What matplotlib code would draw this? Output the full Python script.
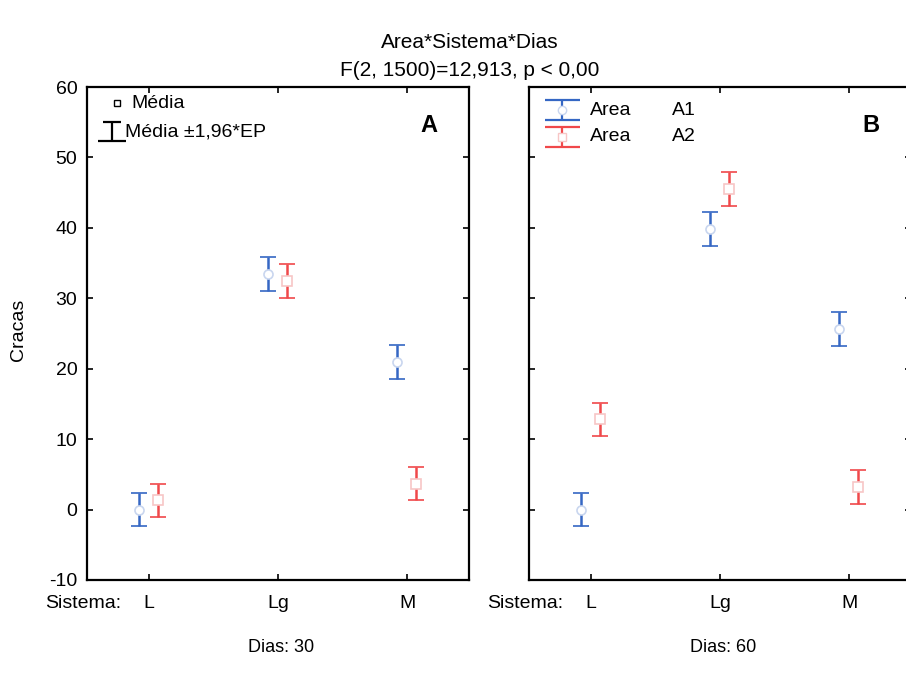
import matplotlib
matplotlib.use("Agg")
import matplotlib.pyplot as plt
import numpy as np

plt.rcParams["font.family"] = ["Liberation Sans", "DejaVu Sans"]
plt.rcParams["axes.unicode_minus"] = False

sistema = ["L", "Lg", "M"]
dias = ["Dias: 30", "Dias: 60"]
panel_tags = ["A", "B"]

# mean number of barnacles per Area, for each sampling day
media_a1 = [[0.0, 33.4, 20.9], [0.0, 39.8, 25.6]]
media_a2 = [[1.3, 32.5, 3.7], [12.8, 45.5, 3.2]]
# half width of the 95% interval (1.96*EP)
ic_a1 = [[2.4, 2.4, 2.4], [2.4, 2.4, 2.4]]
ic_a2 = [[2.4, 2.4, 2.4], [2.4, 2.4, 2.4]]

BLUE = "#3567c4"
RED = "#f0484a"
BLUE_FACE = "#c9d6ef"
RED_FACE = "#f7c6c6"
FS = 14

W, H = 906, 684
fig = plt.figure(figsize=(W / 100, H / 100), dpi=100)


def fx(px):
    return px / W


def fy(py):
    return 1 - py / H


def glyph(ax, x, y, half_w, half_h, color, marker=None, mec=None, cap_top=None):
    # little error-bar symbol used in the legends (axes fraction coords)
    tr = ax.transAxes
    top_w = half_w if cap_top is None else cap_top
    kw = dict(transform=tr, color=color, lw=1.6, clip_on=False, solid_capstyle="butt")
    ax.plot([x - top_w, x + top_w], [y + half_h, y + half_h], **kw)
    ax.plot([x - half_w, x + half_w], [y - half_h, y - half_h], **kw)
    ax.plot([x, x], [y - half_h, y + half_h], **kw)
    if marker:
        ax.plot([x], [y], marker=marker, ms=6, mfc="white", mec=mec or color, mew=1.0,
                transform=tr, clip_on=False, ls="none")


axes = []
lefts = [87, 529]
for i in range(2):
    ax = fig.add_axes([fx(lefts[i]), fy(580), 382 / W, (580 - 87) / H])
    axes.append(ax)
    x = np.arange(len(sistema))
    ax.errorbar(x - 0.08, media_a1[i], yerr=ic_a1[i], fmt="o", color=BLUE, ecolor=BLUE,
                elinewidth=1.8, capsize=6, capthick=1.8, ms=6.5, mfc="white", mec=BLUE_FACE, mew=1.2)
    ax.errorbar(x + 0.07, media_a2[i], yerr=ic_a2[i], fmt="s", color=RED, ecolor=RED,
                elinewidth=1.8, capsize=6, capthick=1.8, ms=6.5, mfc="white", mec=RED_FACE, mew=1.2)
    ax.set_xlim(-0.48, 2.48)
    ax.set_ylim(-10, 60)
    ax.set_yticks(np.arange(-10, 61, 10))
    ax.set_xticks(x)
    ax.set_xticklabels(sistema)
    ax.tick_params(direction="in", length=4, width=1.2, top=True, right=True,
                   labelsize=FS, pad=7)
    ax.tick_params(axis="x", pad=11)
    if i == 1:
        ax.tick_params(labelleft=False)
    for s in ax.spines.values():
        s.set_linewidth(1.6)
    ax.text(0.895, 0.922, panel_tags[i], transform=ax.transAxes, fontsize=17,
            fontweight="bold", ha="center", va="center")
    fig.text(fx(lefts[i] - 42), fy(603), "Sistema:", fontsize=FS, ha="left", va="center")
    fig.text(fx(lefts[i] + 194), fy(648), dias[i], fontsize=13, ha="center", va="center")

# legend of the left panel
axl = axes[0]
axl.plot([0.078], [0.967], marker="s", ms=4.5, mfc="white", mec="black", mew=1.0,
         transform=axl.transAxes, clip_on=False, ls="none")
axl.text(0.115, 0.967, "Média", transform=axl.transAxes, fontsize=FS, va="center")
glyph(axl, 0.066, 0.909, 0.036, 0.019, "black", cap_top=0.024)
axl.text(0.100, 0.909, "Média \u00b11,96*EP", transform=axl.transAxes, fontsize=FS, va="center")

# legend of the right panel
axr = axes[1]
glyph(axr, 0.087, 0.953, 0.046, 0.020, BLUE, marker="o", mec=BLUE_FACE)
glyph(axr, 0.087, 0.899, 0.046, 0.020, RED, marker="s", mec=RED_FACE)
for yy, lab in [(0.953, "A1"), (0.899, "A2")]:
    axr.text(0.160, yy, "Area", transform=axr.transAxes, fontsize=FS, va="center")
    axr.text(0.374, yy, lab, transform=axr.transAxes, fontsize=FS, va="center")

fig.text(fx(18), fy(330), "Cracas", rotation=90, fontsize=FS, ha="center", va="center")
fig.text(fx(470), fy(42), "Area*Sistema*Dias", fontsize=15, ha="center", va="center")
fig.text(fx(470), fy(70), "F(2, 1500)=12,913, p < 0,00", fontsize=15, ha="center", va="center")

fig.savefig("out.png", dpi=100)
